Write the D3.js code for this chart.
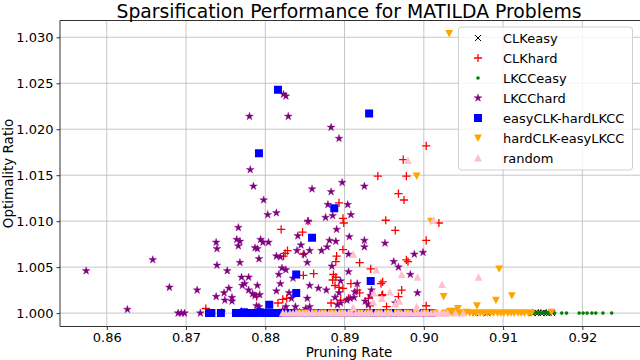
<!DOCTYPE html>
<html><head><meta charset="utf-8">
<script src="https://cdn.jsdelivr.net/npm/d3@7"></script>
<style>body{margin:0;background:#fff}svg{display:block;font-family:"DejaVu Sans",sans-serif}</style>
</head><body><svg id="c" width="640" height="360"></svg>
<script>
const title = "Sparsification Performance for MATILDA Problems";
const xLabel = "Pruning Rate";
const yLabel = "Optimality Ratio";
const xTicks = [0.86,0.87,0.88,0.89,0.90,0.91,0.92];
const yTicks = [1.000,1.005,1.010,1.015,1.020,1.025,1.030];
const seriesNames = ["CLKeasy","CLKhard","LKCCeasy","LKCChard","easyCLK-hardLKCC","hardCLK-easyLKCC","random"];

const CLKeasy = [[0.9137,1.0],[0.9141,1.0001],[0.9144,1.0],[0.9148,1.0],[0.9151,1.0001],[0.9155,1.0],[0.9158,1.0],[0.9162,1.0],[0.9065,1.0],[0.9080,1.0]];

const CLKhard = [[0.9003,1.0182],[0.8974,1.0167],[0.8942,1.0149],[0.8978,1.0149],
[0.8968,1.0130],[0.8975,1.0123],[0.8893,1.0120],[0.8898,1.0103],[0.8899,1.0098],[0.8952,1.0101],[0.8964,1.0090],[0.9019,1.0098],[0.9003,1.0079],
[0.8898,1.0069],[0.8890,1.0062],[0.8889,1.0056],[0.8919,1.0055],[0.8978,1.0058],[0.8980,1.0056],[0.8933,1.0048],
[0.8886,1.0042],[0.8889,1.0039],[0.8885,1.0036],[0.8893,1.0028],[0.8908,1.0032],[0.8916,1.0025],[0.8946,1.0032],[0.8948,1.0020],
[0.8972,1.0025],[0.8968,1.0018],[0.8883,1.0011],[0.8932,1.0008],[0.8953,1.0007],[0.9003,1.0008],[0.8905,1.0016],
[0.8820,1.0091],[0.8847,1.0088],[0.8848,1.0064],[0.8828,1.0068],[0.8825,1.0065],[0.8823,1.0062],[0.8854,1.0100],
[0.8848,1.0041],[0.8861,1.0043],[0.8816,1.0011],[0.8789,1.0018],[0.8725,1.0005],
[0.8822,1.0015],[0.8827,1.0016],[0.8888,1.0030],[0.8898,1.0027],[0.8919,1.0022],[0.8948,1.0034],[0.8895,1.0014],[0.8930,1.0016],[0.8947,1.0019],
[0.8850,1.0000],[0.8900,1.0000],[0.8950,1.0000],[0.9000,1.0000]];

const LKCCeasy = [[0.9134,1.0],[0.9137,1.0001],[0.9140,1.0],[0.9143,1.0],[0.9146,1.0001],[0.9149,1.0],[0.9152,1.0],[0.9155,1.0001],[0.9158,1.0],
[0.9165,1.0],[0.9174,1.0],[0.9180,1.0],[0.9196,1.0],[0.9201,1.0],[0.9206,1.0],[0.9212,1.0],[0.9217,1.0],[0.9226,1.0],[0.9237,1.0]];

const LKCChard = [[0.8574,1.0046],[0.8626,1.0004],[0.8658,1.0058],[0.8679,1.0028],
[0.8690,1.0000],[0.8694,1.0000],[0.8698,1.0000],[0.8714,1.0025],[0.8718,1.0000],
[0.8738,1.0077],[0.8739,1.0070],[0.8739,1.0052],[0.8738,1.0018],
[0.8752,1.0046],[0.8754,1.0027],[0.8748,1.0022],[0.8749,1.0014],[0.8758,1.0017],[0.8758,1.0013],
[0.8766,1.0093],[0.8764,1.0080],[0.8768,1.0078],[0.8766,1.0073],[0.8768,1.0055],
[0.8770,1.0039],[0.8771,1.0030],[0.8774,1.0032],[0.8779,1.0039],[0.8779,1.0025],
[0.8787,1.0071],[0.8790,1.0070],[0.8792,1.0059],[0.8790,1.0030],[0.8784,1.0021],[0.8787,1.0019],[0.8793,1.0020],[0.8789,1.0008],[0.8792,1.0007],
[0.8785,1.0138],[0.8798,1.0123],[0.8794,1.0080],[0.8797,1.0077],[0.8804,1.0077],[0.8803,1.0107],
[0.8814,1.0109],[0.8814,1.0062],[0.8819,1.0061],[0.8821,1.0049],[0.8826,1.0047],[0.8817,1.0042],[0.8819,1.0032],[0.8814,1.0024],
[0.8830,1.0022],[0.8833,1.0016],[0.8826,1.0007],[0.8838,1.0007],[0.8835,1.0038],
[0.8841,1.0084],[0.8845,1.0074],[0.8840,1.0068],[0.8849,1.0064],[0.8853,1.0016],[0.8851,1.0005],
[0.8856,1.0068],[0.8856,1.0030],[0.8854,1.0100],[0.8859,1.0135],[0.8853,1.0055],[0.8867,1.0027],[0.8871,1.0068],
[0.8823,1.0238],[0.8826,1.0236],[0.8780,1.0214],[0.8829,1.0214],[0.8781,1.0156],
[0.8883,1.0202],[0.8893,1.0190],[0.8897,1.0142],[0.8925,1.0138],[0.8883,1.0132],[0.8904,1.0118],
[0.8879,1.0118],[0.8876,1.0104],[0.8885,1.0106],[0.8908,1.0107],[0.8890,1.0091],[0.8906,1.0083],
[0.8881,1.0079],[0.8889,1.0078],[0.8925,1.0079],[0.8925,1.0072],[0.8951,1.0076],[0.8878,1.0072],
[0.8905,1.0064],[0.8988,1.0064],[0.8999,1.0066],
[0.8884,1.0051],[0.8905,1.0045],[0.8895,1.0035],[0.8877,1.0025],[0.8916,1.0032],[0.8934,1.0025],[0.8933,1.0019],
[0.8888,1.0017],[0.8893,1.0022],[0.8913,1.0023],[0.8907,1.0016],[0.8912,1.0017],[0.8903,1.0014],[0.8895,1.0011],[0.8891,1.0009],
[0.8926,1.0013],[0.8962,1.0056],[0.8968,1.0050],[0.8992,1.0022],[0.8964,1.0011],[0.8856,1.0007],[0.8930,1.0009],[0.8983,1.0042],
[0.8745,1.0001],[0.8770,1.0002],[0.8800,1.0001],[0.8822,1.0003],[0.8843,1.0001]];

const easyCLKhardLKCC = [[0.8816,1.0243],[0.8792,1.0174],[0.8931,1.0217],[0.8887,1.0114],[0.8859,1.0082],[0.8839,1.0042],[0.8839,1.0022],[0.8805,1.0009],[0.8933,1.0035],
[0.8729,1.0000],[0.8732,1.0000],[0.8744,1.0000],[0.8763,1.0000],[0.8768,1.0000],[0.8773,1.0001],[0.8778,1.0000],[0.8783,1.0000],[0.8788,1.0000],[0.8793,1.0001],[0.8798,1.0000],[0.8803,1.0000],[0.8808,1.0000],[0.8812,1.0000],[0.8816,1.0000],
[0.8822,1.0000],[0.8828,1.0000],[0.8834,1.0000],[0.8840,1.0000],[0.8846,1.0000],[0.8853,1.0000],[0.8860,1.0000],[0.8868,1.0000],[0.8876,1.0000],[0.8884,1.0000],[0.8892,1.0000],[0.8900,1.0000],[0.8908,1.0000],[0.8916,1.0000],[0.8924,1.0000],[0.8932,1.0000],[0.8940,1.0000],[0.8948,1.0000],[0.8956,1.0000],[0.8964,1.0000],[0.8972,1.0000],[0.8980,1.0000],[0.8988,1.0000],[0.8996,1.0000],[0.9004,1.0000],[0.9010,1.0000]];

const hardCLKeasyLKCC = [[0.9032,1.0304],[0.8991,1.0149],[0.9009,1.0100],[0.9095,1.0048],[0.9025,1.0018],[0.9091,1.0014],[0.9111,1.0019],[0.9043,1.0005],[0.9067,1.0008],[0.9033,1.0002],[0.9161,1.0001],
[0.8842,1.0],[0.8851,1.0],[0.8862,1.0],[0.8873,1.0],[0.8885,1.0],[0.8897,1.0],[0.8908,1.0],[0.8920,1.0],[0.8931,1.0],[0.8943,1.0],[0.8955,1.0],[0.8967,1.0],[0.8979,1.0],[0.8990,1.0],[0.9002,1.0],[0.9014,1.0],
[0.9027,1.0],[0.9031,1.0],[0.9036,1.0],[0.9040,1.0002],[0.9045,1.0],[0.9049,1.0],[0.9054,1.0001],[0.9058,1.0],[0.9062,1.0],[0.9066,1.0],[0.9071,1.0],[0.9075,1.0],[0.9080,1.0],[0.9084,1.0],[0.9088,1.0],[0.9093,1.0],[0.9097,1.0],[0.9101,1.0],[0.9106,1.0],[0.9110,1.0],[0.9114,1.0],[0.9119,1.0],[0.9123,1.0],[0.9127,1.0],[0.9132,1.0],[0.9136,1.0]];

const random = [[0.8980,1.0166],[0.9012,1.0101],[0.8911,1.0064],[0.8940,1.0047],[0.8972,1.0042],[0.8992,1.0039],[0.9069,1.0039],[0.9023,1.0031],[0.8957,1.0023],[0.8937,1.0022],[0.8947,1.0016],[0.8991,1.0007],[0.8964,1.0010],[0.8936,1.0012],[0.8969,1.0013],[0.8911,1.0006],
[0.8822,1.0],[0.8826,1.0],[0.8831,1.0],[0.8835,1.0],[0.8839,1.0],[0.8843,1.0],[0.8847,1.0],[0.8851,1.0],[0.8855,1.0],[0.8859,1.0],[0.8864,1.0],[0.8868,1.0],[0.8872,1.0],[0.8876,1.0],[0.8880,1.0],[0.8884,1.0],[0.8889,1.0],[0.8893,1.0],[0.8897,1.0],[0.8901,1.0],[0.8905,1.0],[0.8909,1.0],[0.8914,1.0],[0.8918,1.0],[0.8922,1.0],[0.8926,1.0],[0.8930,1.0],[0.8934,1.0],[0.8939,1.0],[0.8943,1.0],[0.8947,1.0],[0.8951,1.0],[0.8955,1.0],[0.8959,1.0],[0.8964,1.0],[0.8968,1.0],[0.8972,1.0],[0.8976,1.0],[0.8980,1.0],[0.8984,1.0],[0.8989,1.0],[0.8993,1.0],[0.8997,1.0],[0.9001,1.0],[0.9005,1.0],[0.9009,1.0],[0.9014,1.0],[0.9018,1.0],[0.9022,1.0],[0.9026,1.0],[0.9030,1.0],[0.9040,1.0],[0.9050,1.0]];

const seriesData = [CLKeasy, CLKhard, LKCCeasy, LKCChard, easyCLKhardLKCC, hardCLKeasyLKCC, random];

const L = 60, R = 646, T = 20.5, B = 326.5;
const x = d3.scaleLinear().domain([0.8541, 0.92803]).range([L, R]);
const y = d3.scaleLinear().domain([0.998543, 1.031826]).range([B, T]);

const starPath = d3.symbol(d3.symbolStar, 19)();
const styles = [
  {d: "M-3,-3L3,3M-3,3L3,-3", fill: "none", stroke: "#000", sw: 1},
  {d: "M-4.1,0H4.1M0,-4.1V4.1", fill: "none", stroke: "#ff0000", sw: 1.3},
  {circle: 1.8, fill: "#008000"},
  {d: starPath, fill: "#800080", stroke: "#800080", sw: 0.4},
  {d: "M-4,-4h8v8h-8Z", fill: "#0000ff"},
  {d: "M-3.9,-3.5L3.9,-3.5L0,3.9Z", fill: "#ffa500"},
  {d: "M0,-3.9L3.9,3.5L-3.9,3.5Z", fill: "#ffc0cb"}
];

const svg = d3.select("#c");
svg.append("rect").attr("width", 640).attr("height", 360).attr("fill", "#fff");

// grid
const grid = svg.append("g").attr("stroke", "#bfbfbf").attr("stroke-width", 0.9);
grid.selectAll("line.v").data(xTicks).join("line").attr("class", "v")
  .attr("x1", d => x(d)).attr("x2", d => x(d)).attr("y1", T).attr("y2", B);
grid.selectAll("line.h").data(yTicks).join("line").attr("class", "h")
  .attr("x1", L).attr("x2", 640).attr("y1", d => y(d)).attr("y2", d => y(d));

svg.append("clipPath").attr("id", "clip").append("rect").attr("x", L).attr("y", T).attr("width", R - L).attr("height", B - T);

function drawMarker(sel, st) {
  if (st.circle) {
    sel.append("circle").attr("r", st.circle).attr("fill", st.fill);
  } else {
    sel.append("path").attr("d", st.d).attr("fill", st.fill)
      .attr("stroke", st.stroke || "none").attr("stroke-width", st.sw || 0);
  }
}

const plot = svg.append("g").attr("clip-path", "url(#clip)");
seriesData.forEach((data, i) => {
  const g = plot.append("g");
  const pts = g.selectAll("g").data(data).join("g")
    .attr("transform", d => `translate(${x(d[0])},${y(d[1])})`);
  pts.each(function() { drawMarker(d3.select(this), styles[i]); });
});

// axes
const xAxis = d3.axisBottom(x).tickValues(xTicks).tickFormat(d3.format(".2f")).tickSize(3.5).tickPadding(3);
const yAxis = d3.axisLeft(y).tickValues(yTicks).tickFormat(d3.format(".3f")).tickSize(3.5).tickPadding(3);
const gx = svg.append("g").attr("transform", `translate(0,${B})`).call(xAxis);
const gy = svg.append("g").attr("transform", `translate(${L},0)`).call(yAxis);
[gx, gy].forEach(g => {
  g.select(".domain").remove();
  g.selectAll(".tick line").attr("stroke", "#333");
  g.selectAll(".tick text").attr("fill", "#000").attr("font-size", 13).attr("font-family", "DejaVu Sans");
});
gy.selectAll(".tick text").attr("dy", "0.36em");

// spines
const sp = svg.append("g").attr("stroke", "#333").attr("stroke-width", 1);
sp.append("line").attr("x1", L).attr("x2", L).attr("y1", T).attr("y2", B);
sp.append("line").attr("x1", L).attr("x2", 640).attr("y1", B).attr("y2", B);
sp.append("line").attr("x1", L).attr("x2", 640).attr("y1", T).attr("y2", T);

// labels
svg.append("text").attr("x", (L + 638) / 2).attr("y", 17.5).attr("text-anchor", "middle")
  .attr("font-size", 18.8).text(title);
svg.append("text").attr("x", (L + 638) / 2).attr("y", 357).attr("text-anchor", "middle")
  .attr("font-size", 13.5).text(xLabel);
svg.append("text").attr("transform", `translate(12.5,${(T + B) / 2}) rotate(-90)`).attr("text-anchor", "middle")
  .attr("font-size", 13.5).text(yLabel);

// legend
const lg = svg.append("g");
lg.append("rect").attr("x", 458.5).attr("y", 27).attr("width", 174).attr("height", 143).attr("rx", 3)
  .attr("fill", "#fff").attr("fill-opacity", 0.8).attr("stroke", "#d0d0d0").attr("stroke-width", 1);
seriesNames.forEach((name, i) => {
  const cy = 38 + i * 20;
  const m = lg.append("g").attr("transform", `translate(478,${cy})`);
  drawMarker(m, styles[i]);
  lg.append("text").attr("x", 503).attr("y", cy + 4.7).attr("font-size", 13).text(name);
});
</script></body></html>
